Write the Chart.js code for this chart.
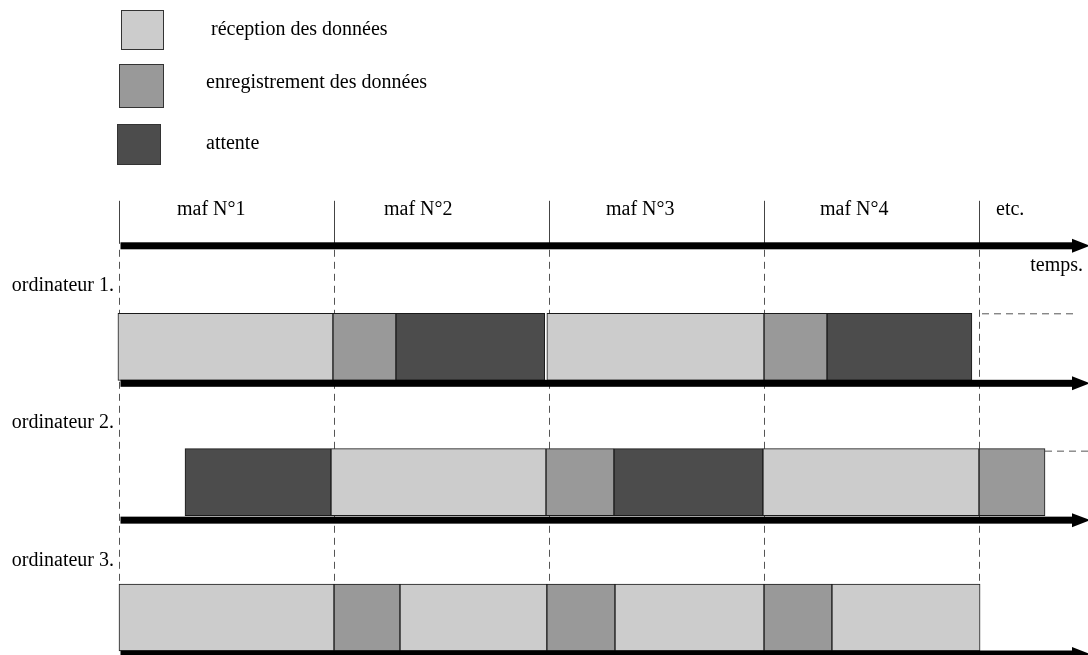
<!DOCTYPE html>
<html>
<head>
<meta charset="utf-8">
<script src="https://cdn.jsdelivr.net/npm/chart.js@4.4.1/dist/chart.umd.min.js"></script>
<style>
  html, body { margin: 0; padding: 0; background: #fff; }
  #wrap { width: 1088px; height: 655px; position: relative; }
</style>
</head>
<body>
<div id="wrap"><canvas id="timeline" width="1088" height="655"></canvas></div>
<script>
// rows and labels
const rows = ['ordinateur 1.', 'ordinateur 2.', 'ordinateur 3.'];
const seriesLabels = ['réception des données', 'enregistrement des données', 'attente'];
const mafLabels = ['maf N°1', 'maf N°2', 'maf N°3', 'maf N°4', 'etc.'];
const timeLabel = 'temps.';

// segments [start, end] in maf units, per row and per state
const ordi1Reception = [[-0.005, 0.995], [1.99, 3.0]];
const ordi1Enregistrement = [[0.995, 1.288], [3.0, 3.293]];
const ordi1Attente = [[1.288, 1.98], [3.293, 3.967]];

const ordi2Reception = [[0.986, 1.986], [2.995, 4.0]];
const ordi2Enregistrement = [[1.986, 2.302], [4.0, 4.307]];
const ordi2Attente = [[0.307, 0.986], [2.302, 2.995]];

const ordi3Reception = [[0.0, 1.0], [1.307, 1.99], [2.307, 3.0], [3.316, 4.005]];
const ordi3Enregistrement = [[1.0, 1.307], [1.99, 2.307], [3.0, 3.316]];
const ordi3Attente = [];

const colors = ['#cccccc', '#999999', '#4c4c4c'];

function toPoints(perRow) {
  const pts = [];
  perRow.forEach((segs, i) => {
    segs.forEach(s => pts.push({ y: rows[i], x: s }));
  });
  return pts;
}

const datasets = [
  [ordi1Reception, ordi2Reception, ordi3Reception],
  [ordi1Enregistrement, ordi2Enregistrement, ordi3Enregistrement],
  [ordi1Attente, ordi2Attente, ordi3Attente]
].map((perRow, k) => ({
  label: seriesLabels[k],
  data: toPoints(perRow),
  backgroundColor: colors[k],
  borderColor: '#1a1a1a',
  borderWidth: 1,
  borderSkipped: false,
  barThickness: 67,
  grouped: false,
  clip: false
}));

const SERIF = '20px "Liberation Serif", "DejaVu Serif", serif';
const mafTextShift = [58, 50, 57, 56, 17];

function arrow(ctx, x0, x1, y) {
  ctx.save();
  ctx.fillStyle = '#000';
  ctx.fillRect(x0, y - 3.5, x1 - 16 - x0, 7);
  ctx.beginPath();
  ctx.moveTo(x1 - 18, y - 7);
  ctx.lineTo(x1, y);
  ctx.lineTo(x1 - 18, y + 7);
  ctx.closePath();
  ctx.fill();
  ctx.restore();
}

const decor = {
  id: 'decor',
  beforeDatasetsDraw(chart) {
    const { ctx } = chart;
    const xs = chart.scales.x, ys = chart.scales.y;
    const top = ys.getPixelForValue(0) - 97;
    const bottom = ys.getPixelForValue(2) + 33;
    ctx.save();
    ctx.strokeStyle = '#555';
    ctx.lineWidth = 1;
    ctx.setLineDash([7, 5]);
    for (let i = 0; i < mafLabels.length; i++) {
      const x = Math.round(xs.getPixelForValue(i)) + 0.5;
      ctx.beginPath();
      ctx.moveTo(x, top);
      ctx.lineTo(x, bottom);
      ctx.stroke();
    }
    // continuation hints after last segment of rows 1 and 2
    const r1 = ys.getPixelForValue(0) - 33.5;
    ctx.beginPath();
    ctx.moveTo(xs.getPixelForValue(4) + 3, r1 + 0.5);
    ctx.lineTo(1075, r1 + 0.5);
    ctx.stroke();
    const r2 = ys.getPixelForValue(1) - 31.5;
    ctx.beginPath();
    ctx.moveTo(xs.getPixelForValue(4.307), r2 + 0.5);
    ctx.lineTo(1088, r2 + 0.5);
    ctx.stroke();
    ctx.restore();
  },
  afterDraw(chart) {
    const { ctx } = chart;
    const xs = chart.scales.x, ys = chart.scales.y;
    const x0 = xs.getPixelForValue(0) + 1.5;
    const tlY = ys.getPixelForValue(0) - 101;

    // solid ticks above the time line
    ctx.save();
    ctx.strokeStyle = '#444';
    ctx.lineWidth = 1;
    for (let i = 0; i < mafLabels.length; i++) {
      const x = Math.round(xs.getPixelForValue(i)) + 0.5;
      ctx.beginPath();
      ctx.moveTo(x, tlY - 45);
      ctx.lineTo(x, tlY - 2);
      ctx.stroke();
    }
    ctx.restore();

    // arrows
    arrow(ctx, x0, 1090, tlY);
    rows.forEach((r, i) => {
      const yc = ys.getPixelForValue(i);
      arrow(ctx, x0, 1090, yc + 36.5 + (i === 1 ? 1.5 : 0));
    });

    // texts
    ctx.save();
    ctx.font = SERIF;
    ctx.fillStyle = '#000';
    ctx.textBaseline = 'alphabetic';
    ctx.textAlign = 'left';
    mafLabels.forEach((lab, i) => {
      ctx.fillText(lab, xs.getPixelForValue(i) + mafTextShift[i], tlY - 31);
    });
    ctx.textAlign = 'right';
    ctx.fillText(timeLabel, 1083, tlY + 25);
    rows.forEach((r, i) => {
      const top = ys.getPixelForValue(i) - 33.5 + (i === 1 ? 1.5 : 0);
      ctx.fillText(r, 114, top - 22 + (i === 2 ? 4 : 0));
    });

    // legend
    const boxes = [[121, 10, 42, 39], [119, 64, 44, 43], [117, 124, 43, 40]];
    const textPos = [[211, 35], [206, 88], [206, 149]];
    ctx.textAlign = 'left';
    seriesLabels.forEach((lab, k) => {
      const [bx, by, bw, bh] = boxes[k];
      ctx.fillStyle = colors[k];
      ctx.fillRect(bx, by, bw, bh);
      ctx.strokeStyle = '#333';
      ctx.lineWidth = 1;
      ctx.strokeRect(bx + 0.5, by + 0.5, bw, bh);
      ctx.fillStyle = '#000';
      ctx.fillText(lab, textPos[k][0], textPos[k][1]);
    });
    ctx.restore();
  }
};

new Chart(document.getElementById('timeline').getContext('2d'), {
  type: 'bar',
  data: { labels: rows, datasets },
  options: {
    indexAxis: 'y',
    responsive: false,
    animation: false,
    devicePixelRatio: 1,
    layout: { padding: { left: 119, right: 1.5, top: 346.8, bottom: 37.5 } },
    scales: {
      x: { type: 'linear', min: 0, max: 4.5, display: false },
      y: { type: 'category', offset: false, display: false }
    },
    plugins: {
      legend: { display: false },
      tooltip: { enabled: false }
    }
  },
  plugins: [decor]
});
</script>
</body>
</html>
